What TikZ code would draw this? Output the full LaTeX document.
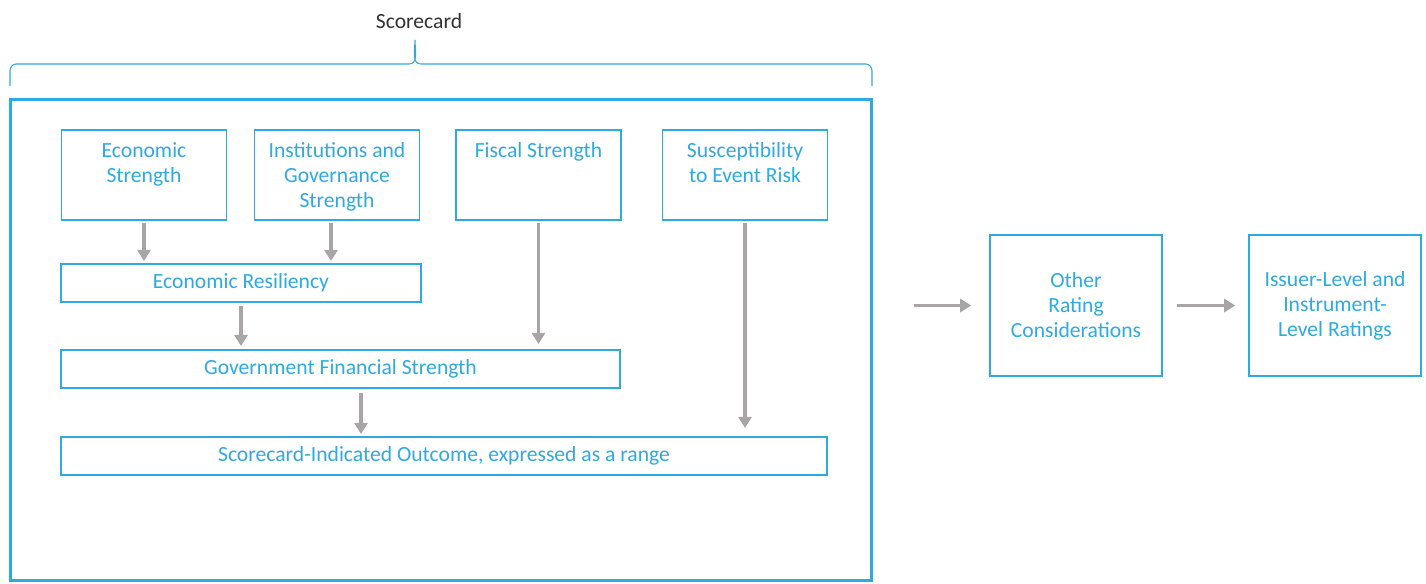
\documentclass[tikz,border=0pt]{standalone}
\usepackage{fontspec}
\setmainfont{Carlito}
\usetikzlibrary{arrows.meta,positioning}
\definecolor{mblue}{HTML}{2DAAE1}
\definecolor{mgray}{HTML}{A7A5A6}
\definecolor{mdark}{HTML}{333333}

\begin{document}
\begin{tikzpicture}[x=0.02cm, y=-0.02cm,
	every node/.style={font=\fontsize{12.3}{14.2}\selectfont, text=mblue, align=center},
	box/.style={draw=mblue, line width=0.9pt, inner sep=0pt},
	tbox/.style={box, minimum width=3.3cm, minimum height=1.8cm, label={[anchor=north, inner sep=0.26cm]north:#1}},
	wbox/.style={box, minimum height=0.77cm, minimum width=#1},
	rbox/.style={box, minimum width=3.44cm, minimum height=2.82cm},
	arr/.style={draw=mgray, line width=2.2pt, -{Triangle[length=0.22cm, width=0.26cm]}}]
			\useasboundingbox (0,0) rectangle (1426,583);

			% scorecard frame and brace
			\node[text=mdark] (sclbl) at (419,21) {Scorecard};
			\draw[mblue, line width=0.6pt] (10,86) -- (10,71) to[out=90, in=180] (16,64) -- (409,64)
				to[out=0, in=-90] (415,40) to[out=-90, in=180] (421,64) -- (866,64)
				to[out=0, in=90] (872,71) -- (872,86);
			\node[draw=mblue, line width=1.7pt, minimum width=17.24cm, minimum height=9.64cm] (sc) at (441,340) {};

			\node[tbox={Economic\\Strength}] (es) at (144,175) {};
			\node[tbox={Institutions and\\Governance\\Strength}] (igs) at (337,175) {};
			\node[tbox={Fiscal Strength}] (fs) at (538.5,175) {};
			\node[tbox={Susceptibility\\to Event Risk}] (ser) at (745,175) {};

			\node[wbox=7.2cm] (er) at (241,283) {Economic Resiliency};
			\node[wbox=11.18cm] (gfs) at (340.5,369) {Government Financial Strength};
			\node[wbox=15.32cm] (sio) at (444,456) {Scorecard-Indicated Outcome, expressed as a range};

			\node[rbox] (oth) at (1076,305.5) {Other\\Rating\\Considerations};
			\node[rbox] (ilr) at (1335,305.5) {Issuer-Level and\\Instrument-\\Level Ratings};

			\draw[arr, shorten <=0.04cm, shorten >=0.04cm] (es.south) -- (es.south |- er.north);
			\draw[arr, shorten <=0.04cm, shorten >=0.04cm] ([xshift=-0.12cm]igs.south) -- ([xshift=-0.12cm]igs.south |- er.north);
			\draw[arr, shorten <=0.06cm, shorten >=0.06cm] (er.south) -- (er.south |- gfs.north);
			\draw[arr, shorten <=0.04cm, shorten >=0.1cm] (fs.south) -- (fs.south |- gfs.north);
			\draw[arr, shorten <=0.08cm, shorten >=0.04cm] ([xshift=0.41cm]gfs.south) -- ([xshift=0.41cm]gfs.south |- sio.north);
			\draw[arr, shorten <=0.04cm, shorten >=0.16cm] (ser.south) -- (ser.south |- sio.north);
			\draw[arr, shorten <=0.82cm, shorten >=0.36cm] (sc.east |- oth.west) -- (oth.west);
			\draw[arr, shorten <=0.28cm, shorten >=0.26cm] (oth.east) -- (ilr.west);
		\end{tikzpicture}
\end{document}
